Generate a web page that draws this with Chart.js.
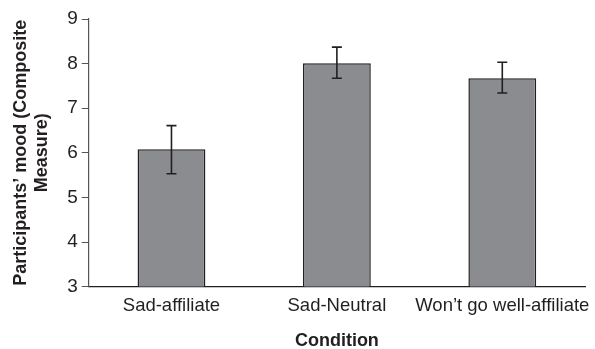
<!DOCTYPE html>
<html>
<head>
<meta charset="utf-8">
<script src="https://cdn.jsdelivr.net/npm/chart.js@4.4.0/dist/chart.umd.min.js"></script>
<style>
  html, body { margin: 0; padding: 0; background: #fff; }
</style>
</head>
<body>
<canvas id="moodChart" width="595" height="349"></canvas>
<script>
// condition means and error bar ends
let conditions = ['Sad-affiliate', 'Sad-Neutral', 'Won\u2019t go well-affiliate'];
let moodMeans = [6.08, 8.01, 7.67];
let errUpper = [6.61, 8.37, 8.03];
let errLower = [5.53, 7.67, 7.34];
let yTicks = [3, 4, 5, 6, 7, 8, 9];

// draws the error bars on top of the bars
let errorBarPlugin = {
    id: 'errorBars',
    afterDatasetsDraw(chart) {
        let ctx = chart.ctx;
        let yScale = chart.scales.y;
        let meta = chart.getDatasetMeta(0);
        ctx.save();
        ctx.strokeStyle = '#231f20';
        ctx.lineWidth = 1.6;
        meta.data.forEach((bar, i) => {
            let x = bar.x;
            let yTop = yScale.getPixelForValue(errUpper[i]);
            let yBot = yScale.getPixelForValue(errLower[i]);
            ctx.beginPath();
            ctx.moveTo(x, yTop);
            ctx.lineTo(x, yBot);
            ctx.moveTo(x - 5, yTop);
            ctx.lineTo(x + 5, yTop);
            ctx.moveTo(x - 5, yBot);
            ctx.lineTo(x + 5, yBot);
            ctx.stroke();
        });
        ctx.restore();
    }
};

let ctx = document.getElementById('moodChart').getContext('2d');
let moodChart = new Chart(ctx, {
    type: 'bar',
    data: {
        labels: conditions,
        datasets: [{
            data: moodMeans,
            backgroundColor: '#8b8c90',
            borderColor: '#231f20',
            borderWidth: 1.5,
            borderSkipped: false,
            barPercentage: 0.82,
            categoryPercentage: 0.5
        }]
    },
    options: {
        responsive: false,
        animation: false,
        layout: { padding: { top: 19, right: 10, left: 10, bottom: 0 } },
        plugins: {
            legend: { display: false },
            tooltip: { enabled: false }
        },
        scales: {
            x: {
                grid: { display: false },
                border: { display: true, color: '#231f20', width: 1.2 },
                ticks: {
                    color: '#231f20',
                    padding: 0,
                    maxRotation: 0,
                    minRotation: 0,
                    autoSkip: false,
                    font: { family: 'Liberation Sans', size: 18.5 }
                },
                title: {
                    display: true,
                    text: 'Condition',
                    color: '#231f20',
                    padding: { top: 16, bottom: 0 },
                    font: { family: 'Liberation Sans', size: 18, weight: 'bold', lineHeight: 0.9 }
                }
            },
            y: {
                min: 3,
                max: 9,
                afterBuildTicks: axis => { axis.ticks = yTicks.map(v => ({ value: v })); },
                grid: {
                    drawOnChartArea: false,
                    drawTicks: true,
                    tickLength: 7,
                    color: '#555'
                },
                border: { display: true, color: '#555', width: 1.2 },
                ticks: {
                    color: '#231f20',
                    padding: 4,
                    font: { family: 'Liberation Sans', size: 19 }
                },
                title: {
                    display: true,
                    text: ['Participants\u2019 mood (Composite', 'Measure)'],
                    color: '#231f20',
                    padding: { top: 0, bottom: 10 },
                    font: { family: 'Liberation Sans', size: 18, weight: 'bold', lineHeight: 1.2 }
                }
            }
        }
    },
    plugins: [errorBarPlugin]
});
</script>
</body>
</html>
